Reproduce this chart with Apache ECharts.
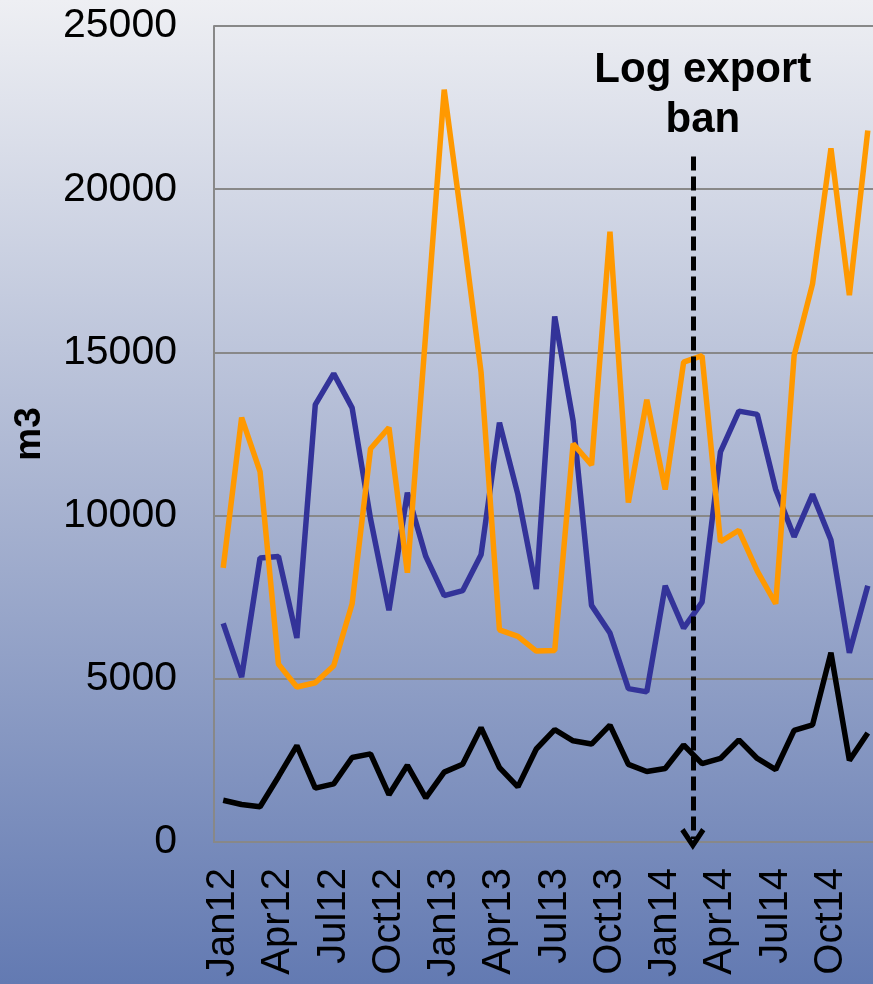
<html>

<head>
    <meta charset="utf-8">
    <title>Log export ban</title>
    <style>
        html,
        body {
            padding: 0;
            margin: 0;
            width: 873px;
            height: 984px;
            overflow: hidden;
        }

        #chartDiv {
            width: 873px;
            height: 984px;
            background: linear-gradient(to bottom, #eeeff3 0%, #a9b4d1 50%, #637ab2 100%);
        }
    </style>
    <script src="https://cdn.jsdelivr.net/npm/echarts@6/dist/echarts.min.js"></script>
</head>

<body>
    <div id="chartDiv"></div>
    <script>
        // months Jan12 .. Dec14
        var months = [
            'Jan12', 'Feb12', 'Mar12', 'Apr12', 'May12', 'Jun12', 'Jul12', 'Aug12', 'Sep12', 'Oct12', 'Nov12', 'Dec12',
            'Jan13', 'Feb13', 'Mar13', 'Apr13', 'May13', 'Jun13', 'Jul13', 'Aug13', 'Sep13', 'Oct13', 'Nov13', 'Dec13',
            'Jan14', 'Feb14', 'Mar14', 'Apr14', 'May14', 'Jun14', 'Jul14', 'Aug14', 'Sep14', 'Oct14', 'Nov14', 'Dec14'
        ];

        var orangeValues = [
            8400, 13000, 11350, 5450, 4750, 4880, 5400, 7300, 12050, 12700, 8250, 15600,
            23050, 18800, 14400, 6500, 6300, 5850, 5870, 12200, 11550, 18700, 10400, 13550,
            10800, 14700, 14900, 9200, 9550, 8300, 7300, 14900, 17100, 21250, 16750, 21800
        ];

        var blueValues = [
            6700, 5050, 8700, 8750, 6250, 13400, 14350, 13300, 9900, 7100, 10700, 8750,
            7550, 7700, 8800, 12850, 10650, 7750, 16100, 12900, 7250, 6400, 4700, 4600,
            7850, 6550, 7350, 11950, 13200, 13100, 10800, 9350, 10650, 9250, 5800, 7850
        ];

        var blackValues = [
            1280, 1150, 1080, 2000, 2950, 1650, 1780, 2590, 2700, 1450, 2350, 1350,
            2140, 2380, 3500, 2280, 1690, 2850, 3440, 3100, 3000, 3580, 2380, 2160,
            2250, 2970, 2400, 2560, 3130, 2560, 2220, 3420, 3590, 5800, 2500, 3340
        ];

        // ban falls between Feb14 and Mar14 (index 25.5)
        var banIndex = 25.5;
        var banTop = 21000;
        var banBottom = 90;

        var font = "'Liberation Sans', Arial, sans-serif";

        var chart = echarts.init(document.getElementById('chartDiv'));

        var option = {
            animation: false,
            grid: {
                left: 214,
                right: -4,
                top: 26,
                bottom: 142,
                containLabel: false,
                outerBoundsMode: 'none'
            },
            xAxis: [{
                type: 'category',
                data: months,
                boundaryGap: true,
                axisLine: {
                    lineStyle: { color: '#888888', width: 2 }
                },
                axisTick: { show: false },
                axisLabel: {
                    interval: 2,
                    rotate: 90,
                    margin: 26,
                    color: '#000',
                    fontSize: 40,
                    fontFamily: font
                }
            }, {
                // hidden helper axis so the arrow can sit between two months
                type: 'value',
                min: -0.5,
                max: 35.5,
                show: false
            }],
            yAxis: {
                type: 'value',
                min: 0,
                max: 25000,
                interval: 5000,
                name: 'm3',
                nameLocation: 'middle',
                nameGap: 166,
                nameTextStyle: {
                    color: '#000',
                    fontSize: 37,
                    fontWeight: 'bold',
                    fontFamily: font
                },
                axisLine: {
                    show: true,
                    onZero: false,
                    lineStyle: { color: '#888888', width: 2 }
                },
                axisTick: { show: false },
                axisLabel: {
                    margin: 37,
                    color: '#000',
                    fontSize: 41,
                    fontFamily: font,
                    formatter: function (v) { return String(v); }
                },
                splitLine: {
                    lineStyle: { color: '#888888', width: 2 }
                }
            },
            series: [{
                type: 'line',
                data: blackValues,
                symbol: 'none',
                lineStyle: { color: '#000000', width: 5.5 }
            }, {
                type: 'line',
                data: blueValues,
                symbol: 'none',
                lineStyle: { color: '#333399', width: 5.5 }
            }, {
                type: 'line',
                data: orangeValues,
                symbol: 'none',
                lineStyle: { color: '#ff9900', width: 5.5 }
            }, {
                type: 'line',
                xAxisIndex: 1,
                data: [],
                markLine: {
                    silent: true,
                    symbol: ['none', 'path://M12,0L24,18L20,21L12,9L4,21L0,18Z'],
                    symbolSize: [25, 22],
                    lineStyle: {
                        color: '#000',
                        width: 5,
                        type: [14, 6]
                    },
                    label: {
                        show: true,
                        position: 'start',
                        distance: 11,
                        offset: [10, 0],
                        formatter: 'Log export\nban',
                        color: '#000',
                        fontSize: 42,
                        fontWeight: 'bold',
                        lineHeight: 50,
                        fontFamily: font
                    },
                    data: [[
                        { coord: [banIndex, banTop] },
                        { coord: [banIndex, banBottom] }
                    ]]
                }
            }]
        };

        chart.setOption(option);
    </script>
</body>

</html>
